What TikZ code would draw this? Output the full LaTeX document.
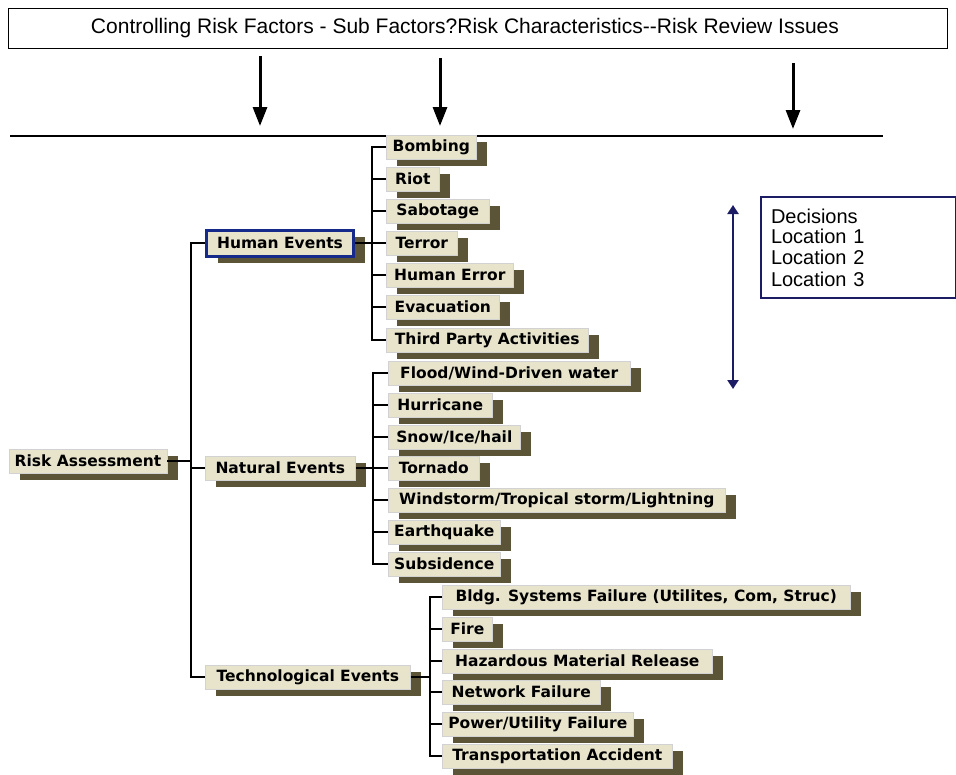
\documentclass[tikz,border=0pt]{standalone}
\usepackage{fontspec}
\setmainfont{Liberation Sans}
\newfontfamily\boxfont{DejaVu Sans}
\usetikzlibrary{arrows.meta}
\usetikzlibrary{shadows}
\usetikzlibrary{positioning}

\definecolor{boxfill}{RGB}{232,228,204}
\definecolor{boxshade}{RGB}{92,84,54}
\definecolor{selblue}{RGB}{22,42,140}
\definecolor{navy}{RGB}{28,28,100}

\tikzset{
  tbox/.style={draw=gray!35, line width=0.6pt, fill=boxfill, minimum height=24, inner xsep=4, inner ysep=1,
    font=\boxfont\bfseries\fontsize{15.5}{16}\selectfont,
    drop shadow={fill=boxshade, opacity=1, shadow xshift=11pt, shadow yshift=-7pt}},
  leaf/.style={tbox, anchor=west},
  tree/.style={line width=2.5pt, black},
  bigarrow/.style={line width=3pt, -{Triangle[width=14pt,length=19pt]}},
}

\begin{document}
\begin{tikzpicture}[x=1pt, y=-1pt]
  \useasboundingbox (0,0) rectangle (956,774);

  % Title bar
  \node[draw, line width=1pt, minimum width=939, minimum height=40, anchor=north west,
    font=\fontsize{21}{23}\selectfont] (title) at (8,8)
    {Controlling Risk Factors - Sub Factors?Risk Characteristics{-}{-}Risk Review Issues\hspace*{26pt}};

  % Rule and arrows
  \coordinate (rl) at (10,136);
  \coordinate (rr) at (883,136);
  \draw[line width=2pt] (rl) -- (rr);
  \coordinate (a1) at (260,126);
  \coordinate (a2) at (440,126);
  \coordinate (a3) at (793,129);
  \draw[bigarrow] ([yshift=-7]title.south -| a1) -- (a1);
  \draw[bigarrow] ([yshift=-9]title.south -| a2) -- (a2);
  \draw[bigarrow] ([yshift=-14]title.south -| a3) -- (a3);

  % Main levels
  \node[tbox, minimum width=158] (ra) at (88,461) {Risk Assessment};
  \node[tbox, anchor=west, minimum width=147, minimum height=26, draw=selblue, line width=3pt] (hum) at (205,243) {Human Events};
  \node[tbox, anchor=west, minimum width=150] (nat) at (205,468) {Natural Events};
  \node[tbox, anchor=west, minimum width=205] (tech) at (205,677) {Technological Events};

  \coordinate (mj) at (191,461);
  \draw[tree] (ra.east) -- (mj);
  \draw[tree] (hum.west) -| (mj) |- (tech.west);
  \draw[tree] (nat.west) -- (nat.west -| mj);

  % Human events
  \foreach \nm/\txt/\yy/\ww in {bomb/Bombing/147/90, riot/Riot/179/53, sabo/Sabotage/211/103,
      terr/Terror/243/71, herr/Human Error/275/127, evac/Evacuation/307/113,
      third/Third Party Activities/340/202}
    \node[leaf, minimum width=\ww] (\nm) at (386,\yy) {\txt};
  \coordinate (hj) at (372,243);
  \draw[tree] (hum.east) -- (terr.west);
  \draw[tree] (bomb.west) -| (hj) |- (third.west);
  \foreach \nm in {riot,sabo,herr,evac}
    \draw[tree] (\nm.west) -- (\nm.west -| hj);

  % Natural events
  \foreach \nm/\txt/\yy/\ww in {flood/{Flood/Wind-Driven water}/373/242, hurr/Hurricane/405/104,
      snow/{Snow/Ice/hail}/437/132, torn/Tornado/468/91,
      wind/{Windstorm/Tropical storm/Lightning}/500/337, quake/Earthquake/532/112,
      subs/Subsidence/564/112}
    \node[leaf, minimum width=\ww] (\nm) at (388,\yy) {\txt};
  \coordinate (nj) at (373,468);
  \draw[tree] (nat.east) -- (torn.west);
  \draw[tree] (flood.west) -| (nj) |- (subs.west);
  \foreach \nm in {hurr,snow,wind,quake}
    \draw[tree] (\nm.west) -- (\nm.west -| nj);

  % Technological events
  \foreach \nm/\txt/\yy/\ww in {bldg/{Bldg. Systems Failure (Utilites, Com, Struc)}/597/408,
      fire/Fire/629/50, haz/Hazardous Material Release/661/270, net/Network Failure/692/158,
      power/{Power/Utility Failure}/724/191, trans/Transportation Accident/756/230}
    \node[leaf, minimum width=\ww] (\nm) at (442,\yy) {\txt};
  \coordinate (tj) at (430,677);
  \draw[tree] (tech.east) -- (tj);
  \draw[tree] (bldg.west) -| (tj) |- (trans.west);
  \foreach \nm in {fire,haz,net,power}
    \draw[tree] (\nm.west) -- (\nm.west -| tj);

  % Decisions
  \node[draw=navy, line width=2pt, anchor=north west, minimum width=193, minimum height=101,
    align=left, text width=175, inner xsep=10, inner ysep=1, font=\fontsize{20}{20.5}\selectfont]
    (dec) at (760,196) {Decisions\\Location 1\\Location 2\\[1.5pt]Location 3};
  \coordinate (dt) at (733,205);
  \coordinate (db) at (733,389);
  \draw[navy, line width=2.2pt, {Triangle[width=11pt,length=9pt]}-{Triangle[width=11pt,length=9pt]}] (dt) -- (db);
\end{tikzpicture}
\end{document}
